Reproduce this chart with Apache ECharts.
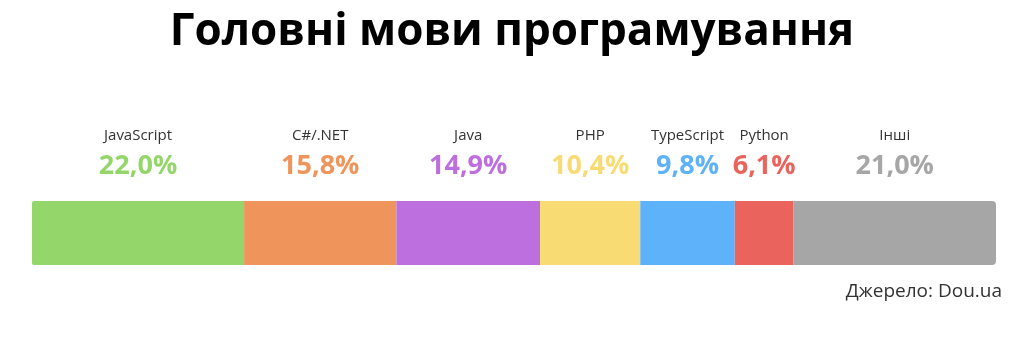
<!DOCTYPE html>
<html>
<head>
<meta charset="utf-8">
<script src="https://cdn.jsdelivr.net/npm/echarts@6/dist/echarts.min.js"></script>
<style>
html,body{margin:0;padding:0;background:#fff;}
#c{width:1024px;height:348px;}
</style>
</head>
<body>
<div id="c"></div>
<script>
const languages = ['JavaScript', 'C#/.NET', 'Java', 'PHP', 'TypeScript', 'Python', 'Інші'];
const shares = [22.0, 15.8, 14.9, 10.4, 9.8, 6.1, 21.0];
const palette = ['#94d66a', '#ef955b', '#bd6fdf', '#f8db72', '#5eb2f9', '#eb635d', '#a6a6a6'];
const titleText = 'Головні мови програмування';
const sourceText = 'Джерело: Dou.ua';

const chart = echarts.init(document.getElementById('c'), null, {renderer: 'canvas'});

const series = languages.map((name, i) => ({
  name: name,
  type: 'bar',
  stack: 'total',
  barWidth: 64,
  data: [shares[i]],
  itemStyle: {
    color: palette[i],
    borderRadius: i === languages.length - 1 ? [0, 4, 4, 0] : (i === 0 ? [2, 0, 0, 2] : 0)
  },
  label: {
    show: true,
    position: 'top',
    distance: 20,
    formatter: function (p) {
      return '{n|' + name + '}\n{p|' + p.value.toFixed(1).replace('.', ',') + '%}';
    },
    rich: {
      n: {fontFamily: 'Open Sans', fontSize: 15, color: '#333', lineHeight: 30},
      p: {fontFamily: 'Open Sans', fontSize: 27, fontWeight: 'bold', color: palette[i], lineHeight: 30}
    }
  }
}));

chart.setOption({
  animation: false,
  title: [{
    text: titleText,
    left: 'center',
    top: 5,
    textStyle: {fontFamily: 'Open Sans', fontSize: 44, fontWeight: 'bold', color: '#000'}
  }, {
    text: sourceText,
    right: 17,
    top: 277,
    textStyle: {fontFamily: 'Open Sans', fontSize: 19, fontWeight: 'normal', color: '#333'}
  }],
  grid: {left: 32, right: 28, top: 201, height: 64},
  xAxis: {type: 'value', min: 0, max: 100, show: false},
  yAxis: {type: 'category', data: ['share'], show: false},
  series: series
});
</script>
</body>
</html>
